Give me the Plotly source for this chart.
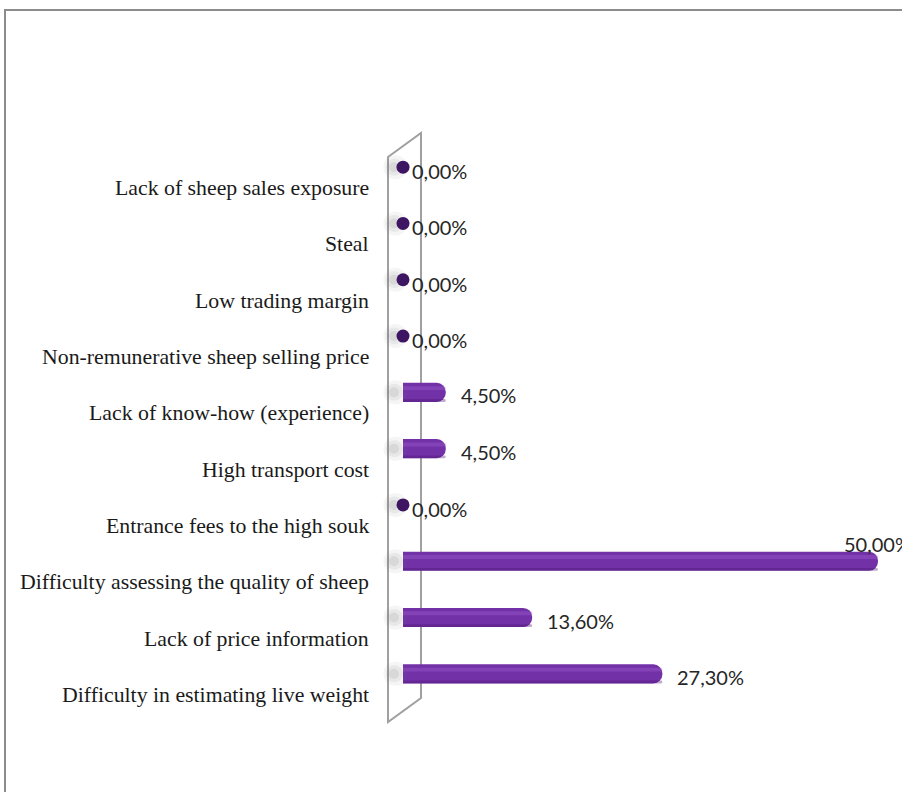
import plotly.graph_objects as go

categories = [
    "Difficulty in estimating live weight",
    "Lack of price information",
    "Difficulty assessing the quality of sheep",
    "Entrance fees to the high souk",
    "High transport cost",
    "Lack of know-how (experience)",
    "Non-remunerative sheep selling price",
    "Low trading margin",
    "Steal",
    "Lack of sheep sales exposure",
]
values = [27.3, 13.6, 50.0, 0.0, 4.5, 4.5, 0.0, 0.0, 0.0, 0.0]
value_labels = ["27,30%", "13,60%", "50,00%", "0,00%", "4,50%", "4,50%",
                "0,00%", "0,00%", "0,00%", "0,00%"]

W, H = 902, 792
L, R, T, B = 388, 24, 139, 90
PW, PH = W - L - R, H - T - B


def px(x):
    return (x - L) / PW


def py(y):
    return (H - B - y) / PH


BAR = "#7331A8"
ZERO = "#3D1563"

fig = go.Figure()

# soft shadows on the wall behind each bar
for size, alpha, xo in [(24, 0.07, -0.8), (17, 0.09, -0.9), (10, 0.12, -0.95)]:
    fig.add_trace(go.Scatter(
        x=[xo] * len(categories), y=categories, mode="markers",
        marker=dict(symbol="circle", size=size, color=f"rgba(110,110,110,{alpha})", line=dict(width=0)),
        hoverinfo="skip", showlegend=False, cliponaxis=False,
    ))

fig.add_trace(go.Bar(
    x=values, y=categories, orientation="h",
    marker=dict(color=BAR, line=dict(width=0), cornerradius=9),
    width=0.34, hoverinfo="skip", showlegend=False,
))
# darker lower edge and lighter highlight for cylinder look
fig.add_trace(go.Bar(
    x=values, y=categories, orientation="h",
    marker=dict(color="rgba(70,20,110,0.35)", line=dict(width=0), cornerradius=3),
    width=0.05, offset=-0.17, hoverinfo="skip", showlegend=False,
))
fig.add_trace(go.Bar(
    x=values, y=categories, orientation="h",
    marker=dict(color="rgba(160,100,210,0.35)", line=dict(width=0), cornerradius=3),
    width=0.07, offset=0.04, hoverinfo="skip", showlegend=False,
))

zc = [c for c, v in zip(categories, values) if v == 0]
zv = [v for v in values if v == 0]
fig.add_trace(go.Scatter(
    x=zv, y=zc, mode="markers",
    marker=dict(symbol="circle", size=13, color=ZERO, line=dict(width=0)),
    hoverinfo="skip", showlegend=False, cliponaxis=False,
))

annotations = []
for c in categories:
    annotations.append(dict(
        x=px(371), xref="paper", y=c, yref="y", text=c, showarrow=False,
        xanchor="right", yanchor="middle", yshift=-21,
        font=dict(family="Liberation Serif", size=21.8, color="#1a1a1a"),
    ))
vmax = max(values)
for c, v, t in zip(categories, values, value_labels):
    if v == vmax:
        xs, ys = -36, 17
    elif v == 0:
        xs, ys = 7, -4
    else:
        xs, ys = 13, -3
    annotations.append(dict(
        x=v, xref="x", y=c, yref="y", text=t, showarrow=False,
        xanchor="left", yanchor="middle", xshift=xs, yshift=ys,
        font=dict(family="Lato", size=20, color="#262626"),
    ))

shapes = [
    # outer chart border
    dict(type="rect", xref="paper", yref="paper",
         x0=px(5), x1=px(W + 20), y0=py(H + 20), y1=py(10),
         line=dict(color="#8c8c8c", width=2), fillcolor="rgba(0,0,0,0)", layer="below"),
    # 3D wall panel
    dict(type="path", xref="paper", yref="paper",
         path=(f"M {px(388)},{py(157)} L {px(421)},{py(133)} "
               f"L {px(421)},{py(698)} L {px(388)},{py(722)} Z"),
         line=dict(color="#a0a0a0", width=2), fillcolor="white", layer="below"),
]

fig.update_layout(
    width=W, height=H,
    margin=dict(l=L, r=R, t=T, b=B),
    paper_bgcolor="white", plot_bgcolor="rgba(0,0,0,0)",
    barmode="overlay",
    xaxis=dict(range=[-1.58, 50], visible=False, showgrid=False, zeroline=False),
    yaxis=dict(type="category", categoryorder="array", categoryarray=categories,
               range=[-0.5, 9.5], showticklabels=False, showgrid=False, zeroline=False,
               showline=False, ticks=""),
    annotations=annotations, shapes=shapes,
)

fig.write_html("out.html")
